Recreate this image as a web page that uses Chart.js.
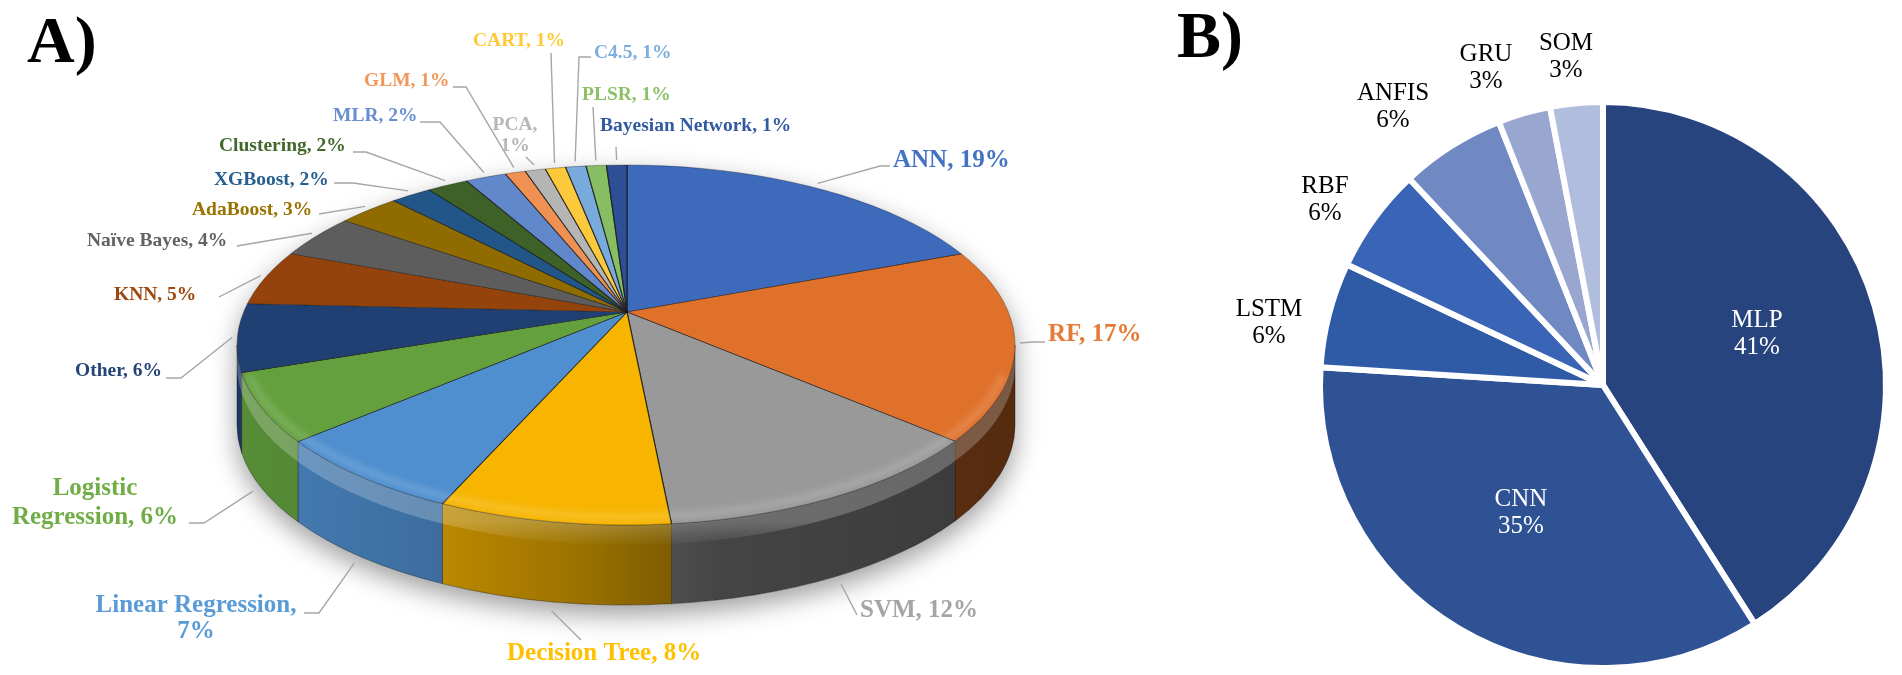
<!DOCTYPE html>
<html lang="en">
<head>
  <meta charset="UTF-8" />
  <title>ML methods share (A) and neural network types (B)</title>
  <style>
    html, body { margin: 0; padding: 0; background: #fff; }
    body { width: 1902px; height: 675px; position: relative; overflow: hidden; }
    canvas { position: absolute; left: 0; top: 0; }
    .panel {
      position: absolute;
      font-family: "Liberation Serif", serif;
      font-weight: bold;
      font-size: 66px;
      line-height: 1;
      color: #000;
    }
  </style>
  <script src="https://cdn.jsdelivr.net/npm/chart.js"></script>
</head>
<body>
  <div class="panel" style="left:27px; top:7px;">A)</div>
  <div class="panel" style="left:1177px; top:2px;">B)</div>
  <canvas id="chartA" width="1902" height="675"></canvas>
  <canvas id="chartB" width="1902" height="675"></canvas>

  <script>
    // ---- data ----
    const methodsA = ['ANN', 'RF', 'SVM', 'Decision Tree', 'Linear Regression', 'Logistic Regression',
      'Other', 'KNN', 'Naïve Bayes', 'AdaBoost', 'XGBoost', 'Clustering', 'MLR', 'GLM', 'PCA',
      'CART', 'C4.5', 'PLSR', 'Bayesian Network'];
    const sharesA = [19, 17, 12, 8, 7, 6, 6, 5, 4, 3, 2, 2, 2, 1, 1, 1, 1, 1, 1];

    const methodsB = ['MLP', 'CNN', 'LSTM', 'RBF', 'ANFIS', 'GRU', 'SOM'];
    const sharesB = [41, 35, 6, 6, 6, 3, 3];

    // ---- styles ----
    const faceColorsA = ['#3e6abb', '#e0712b', '#999999', '#f7b500', '#4f8fcf', '#64a13e', '#203f73',
      '#94430c', '#5d5d5d', '#906c00', '#225689', '#3d6127', '#6288cc', '#ee9153', '#b5b5b5',
      '#fbc93b', '#78aadb', '#87bd63', '#2e4f96'];
    const labelColorsA = ['#4472c4', '#e57b36', '#a5a5a5', '#ffc000', '#5b9bd5', '#70ad47', '#264478',
      '#9e480e', '#636363', '#997300', '#255e91', '#43682b', '#698ed0', '#f1975a', '#b7b7b7',
      '#ffc936', '#7cafdd', '#8cc168', '#335aa1'];
    const colorsB = ['#27447f', '#2f5294', '#2f5aa6', '#3a64b5', '#7089c3', '#99a7d0', '#b1bddf'];

    // tilted pie: apex of the slices, rim ellipse, wall depth
    const TILT = { apexX: 627, apexY: 312, cx: 626, cy: 345, rx: 389, ry: 180, depth: 80, squash: 2.2, reach: 520 };

    // label placement for A (first baseline, leader end, optional knee)
    const labelLayoutA = [
      { x: 893, y: 167, size: 25, end: [890, 166], knee: [880, 166] },
      { x: 1048, y: 341, size: 25, end: [1045, 342], knee: [1033, 342] },
      { x: 860, y: 617, size: 25, end: [857, 615] },
      { x: 507, y: 660, size: 25, end: [581, 640] },
      { x: 196, y: 612, size: 25, align: 'center', split: 'comma', lh: 26, end: [304, 613], knee: [319, 613] },
      { x: 95, y: 495, size: 25, align: 'center', split: 'word', lh: 29, end: [189, 523], knee: [204, 523] },
      { x: 75, y: 376, size: 19.5, end: [166, 378], knee: [181, 378] },
      { x: 114, y: 300, size: 19.5, end: [219, 297] },
      { x: 87, y: 246, size: 19.5, end: [237, 246] },
      { x: 192, y: 215, size: 19.5, end: [319, 214] },
      { x: 214, y: 185, size: 19.5, end: [334, 183], knee: [353, 183] },
      { x: 219, y: 151, size: 19.5, end: [353, 152], knee: [366, 152] },
      { x: 333, y: 121, size: 19.5, end: [420, 122], knee: [440, 122] },
      { x: 364, y: 86, size: 19.5, end: [453, 87], knee: [466, 87] },
      { x: 515, y: 130, size: 19.5, align: 'center', split: 'comma', lh: 21, end: [526, 157] },
      { x: 473, y: 46, size: 19.5, end: [551, 53] },
      { x: 594, y: 58, size: 19.5, end: [591, 57], knee: [579, 57] },
      { x: 582, y: 100, size: 19.5, end: [593, 107] },
      { x: 600, y: 131, size: 19.5, end: [616, 147] }
    ];

    // label placement for B (centre x, first baseline)
    const labelLayoutB = [
      { x: 1757, y: 327, color: '#ffffff' },
      { x: 1521, y: 506, color: '#ffffff' },
      { x: 1269, y: 316 },
      { x: 1325, y: 193 },
      { x: 1393, y: 100 },
      { x: 1486, y: 61 },
      { x: 1566, y: 50 }
    ];

    function shade(hex, f) {
      const n = parseInt(hex.slice(1), 16);
      const r = Math.round(((n >> 16) & 255) * f);
      const g = Math.round(((n >> 8) & 255) * f);
      const b = Math.round((n & 255) * f);
      return `rgb(${r},${g},${b})`;
    }

    // where a slice boundary (library angle) meets the rim ellipse
    function rimPoint(theta) {
      const T = TILT;
      const dx = Math.cos(theta), dy = Math.sin(theta) / T.squash;
      const px = (T.apexX - T.cx) / T.rx, py = (T.apexY - T.cy) / T.ry;
      const qx = dx / T.rx, qy = dy / T.ry;
      const a = qx * qx + qy * qy, b = 2 * (px * qx + py * qy), c = px * px + py * py - 1;
      const t = (-b + Math.sqrt(b * b - 4 * a * c)) / (2 * a);
      const x = T.apexX + dx * t, y = T.apexY + dy * t;
      let psi = Math.atan2((y - T.cy) / T.ry, (x - T.cx) / T.rx);
      while (psi < theta - Math.PI) psi += 2 * Math.PI;
      while (psi > theta + Math.PI) psi -= 2 * Math.PI;
      return { x, y, psi };
    }

    function labelLines(name, value, split) {
      if (split === 'comma') return [name + ',', value + '%'];
      if (split === 'word') {
        const k = name.indexOf(' ');
        return [name.slice(0, k), name.slice(k + 1) + ', ' + value + '%'];
      }
      return [name + ', ' + value + '%'];
    }

    // draws the slices of A as a tilted 3D pie
    const tiltPlugin = {
      id: 'tilt',
      beforeDatasetDraw(chart, args) {
        const ctx = chart.ctx;
        const T = TILT;
        const arcs = args.meta.data;

        // soft shadow below the pie
        ctx.save();
        ctx.shadowColor = 'rgba(0,0,0,0.38)';
        ctx.shadowBlur = 26;
        ctx.shadowOffsetY = 10;
        ctx.fillStyle = '#fff';
        ctx.beginPath();
        ctx.ellipse(T.cx, T.cy, T.rx, T.ry, 0, Math.PI, 2 * Math.PI);
        ctx.ellipse(T.cx, T.cy + T.depth, T.rx, T.ry, 0, 0, Math.PI);
        ctx.closePath();
        ctx.fill();
        ctx.restore();

        // front walls
        arcs.forEach(arc => {
          const s = rimPoint(arc.startAngle).psi;
          let e = rimPoint(arc.endAngle).psi;
          if (e < s) e += 2 * Math.PI;
          const lo = Math.max(s, 0), hi = Math.min(e, Math.PI);
          if (hi <= lo) return;
          const c = arc.options.backgroundColor;
          const g = ctx.createLinearGradient(T.cx - T.rx, 0, T.cx + T.rx, 0);
          g.addColorStop(0, shade(c, 0.88));
          g.addColorStop(0.25, shade(c, 0.77));
          g.addColorStop(0.45, shade(c, 0.62));
          g.addColorStop(0.62, shade(c, 0.45));
          g.addColorStop(1, shade(c, 0.38));
          ctx.beginPath();
          ctx.ellipse(T.cx, T.cy, T.rx, T.ry, 0, lo, hi);
          ctx.ellipse(T.cx, T.cy + T.depth, T.rx, T.ry, 0, hi, lo, true);
          ctx.closePath();
          ctx.fillStyle = g;
          ctx.fill();
          ctx.strokeStyle = 'rgba(0,0,0,0.35)';
          ctx.lineWidth = 1;
          ctx.stroke();
        });

        // bevel light along the top of the wall
        ctx.save();
        const wg = ctx.createLinearGradient(0, T.cy + T.ry - 4, 0, T.cy + T.ry + 22);
        wg.addColorStop(0, 'rgba(255,255,255,0.22)');
        wg.addColorStop(1, 'rgba(255,255,255,0)');
        ctx.beginPath();
        ctx.ellipse(T.cx, T.cy, T.rx, T.ry, 0, 0, Math.PI);
        ctx.ellipse(T.cx, T.cy + 20, T.rx, T.ry, 0, Math.PI, 0, true);
        ctx.closePath();
        ctx.fillStyle = wg;
        ctx.fill();
        ctx.restore();

        // top faces: library arcs seen through the tilt
        ctx.save();
        ctx.beginPath();
        ctx.ellipse(T.cx, T.cy, T.rx, T.ry, 0, 0, 2 * Math.PI);
        ctx.clip();
        const R = arcs[0].outerRadius;
        const S = T.reach / R;
        ctx.translate(T.apexX, T.apexY);
        ctx.scale(S, S / T.squash);
        ctx.translate(-arcs[0].x, -arcs[0].y);
        arcs.forEach(arc => arc.draw(ctx));
        ctx.restore();

        // soft rim highlight and outline
        ctx.save();
        ctx.beginPath();
        ctx.ellipse(T.cx, T.cy, T.rx, T.ry, 0, 0, 2 * Math.PI);
        ctx.clip();
        ctx.filter = 'blur(3px)';
        ctx.beginPath();
        ctx.ellipse(T.cx, T.cy - 3, T.rx - 5, T.ry - 5, 0, 0.06 * Math.PI, 0.94 * Math.PI);
        ctx.strokeStyle = 'rgba(255,255,255,0.16)';
        ctx.lineWidth = 7;
        ctx.stroke();
        ctx.restore();
        ctx.beginPath();
        ctx.ellipse(T.cx, T.cy, T.rx, T.ry, 0, 0, 2 * Math.PI);
        ctx.strokeStyle = 'rgba(0,0,0,0.3)';
        ctx.lineWidth = 1;
        ctx.stroke();
        return false;
      },
      afterDraw(chart) {
        const ctx = chart.ctx;
        const T = TILT;
        const arcs = chart.getDatasetMeta(0).data;
        ctx.save();
        arcs.forEach((arc, i) => {
          const L = labelLayoutA[i];
          const m = rimPoint((arc.startAngle + arc.endAngle) / 2);
          let px = m.x, py = m.y, gap = 5;
          if (Math.sin(m.psi) > 0) { py += T.depth; gap = 9; }
          px += gap * Math.cos(m.psi);
          py += gap * Math.sin(m.psi);
          ctx.beginPath();
          ctx.moveTo(L.end[0], L.end[1]);
          if (L.knee) ctx.lineTo(L.knee[0], L.knee[1]);
          ctx.lineTo(px, py);
          ctx.strokeStyle = '#a6a6a6';
          ctx.lineWidth = 1.4;
          ctx.stroke();

          const lines = labelLines(methodsA[i], sharesA[i], L.split);
          ctx.font = `bold ${L.size}px "Liberation Serif"`;
          ctx.fillStyle = labelColorsA[i];
          ctx.textAlign = L.align || 'left';
          ctx.textBaseline = 'alphabetic';
          lines.forEach((t, k) => ctx.fillText(t, L.x, L.y + k * (L.lh || 0)));
        });
        ctx.restore();
      }
    };

    const labelPluginB = {
      id: 'labelsB',
      afterDraw(chart) {
        const ctx = chart.ctx;
        ctx.save();
        ctx.font = '25px "Liberation Serif"';
        ctx.textAlign = 'center';
        ctx.textBaseline = 'alphabetic';
        methodsB.forEach((name, i) => {
          const L = labelLayoutB[i];
          ctx.fillStyle = L.color || '#000';
          ctx.fillText(name, L.x, L.y);
          ctx.fillText(sharesB[i] + '%', L.x, L.y + 26.5);
        });
        ctx.restore();
      }
    };

    new Chart(document.getElementById('chartA'), {
      type: 'pie',
      data: {
        labels: methodsA,
        datasets: [{
          data: sharesA,
          backgroundColor: faceColorsA,
          borderColor: 'rgba(25,25,25,0.8)',
          borderWidth: 0.8
        }]
      },
      options: {
        responsive: false,
        animation: false,
        events: [],
        plugins: { legend: { display: false }, tooltip: { enabled: false } }
      },
      plugins: [tiltPlugin]
    });

    new Chart(document.getElementById('chartB'), {
      type: 'pie',
      data: {
        labels: methodsB,
        datasets: [{
          data: sharesB,
          backgroundColor: colorsB,
          borderColor: '#ffffff',
          borderWidth: 6
        }]
      },
      options: {
        responsive: false,
        animation: false,
        events: [],
        layout: { padding: { left: 1317, right: 13, top: 99, bottom: 4 } },
        plugins: { legend: { display: false }, tooltip: { enabled: false } }
      },
      plugins: [labelPluginB]
    });
  </script>
</body>
</html>
